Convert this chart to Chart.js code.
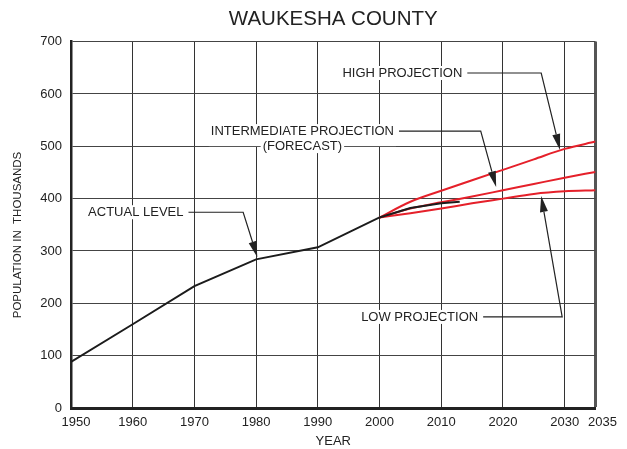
<!DOCTYPE html>
<html><head><meta charset="utf-8">
<script src="https://cdn.jsdelivr.net/npm/chart.js@4.4.1/dist/chart.umd.min.js"></script>
<style>html,body{margin:0;padding:0;background:#fff}canvas{display:block}</style>
</head><body>
<canvas id="c" width="627" height="449"></canvas>
<script>
// ---- data ----
const chartTitle = 'WAUKESHA COUNTY';
const xAxisTitle = 'YEAR';
const yAxisTitle = 'POPULATION IN  THOUSANDS';
const xTickValues = [1950, 1960, 1970, 1980, 1990, 2000, 2010, 2020, 2030, 2035];
const yTickValues = [0, 100, 200, 300, 400, 500, 600, 700];
const actualYears = [1950, 1960, 1970, 1980, 1990, 2000, 2005, 2010, 2013];
const actualPop   = [88, 160, 233, 284, 307, 364, 382, 391, 394];
const projYears        = [2000, 2005, 2010, 2015, 2020, 2025, 2030, 2035];
const highProj         = [364, 394, 415, 435, 455, 475, 495, 509];
const intermediateProj = [364, 381, 393, 404, 416, 428, 440, 451];
const lowProj          = [364, 372, 381, 391, 400, 409, 414, 416];

// ---- annotation callouts (anchors in data units) ----
const callouts = [
  {lines: ['HIGH PROJECTION'], at: [2003.7, 640], elbow: 2026.2, tip: [2029.25, 493]},
  {lines: ['INTERMEDIATE PROJECTION', '(FORECAST)'], at: [1987.5, 529], elbow: 2016.4, tip: [2018.9, 422]},
  {lines: ['ACTUAL LEVEL'], at: [1960.5, 374], elbow: 1977.9, tip: [1980.2, 288]},
  {lines: ['LOW PROJECTION'], at: [2006.5, 174], elbow: 2029.6, tip: [2026.2, 405]}
];

const FONT = "'Liberation Sans', Arial, Helvetica, sans-serif";
const RED = '#e5202a';
const INK = '#222';

const pts = (xs, ys) => xs.map((x, i) => ({x: x, y: ys[i]}));

function textBoxes(chart, cb) {
  const ctx = chart.ctx, xs = chart.scales.x, ys = chart.scales.y;
  ctx.save();
  ctx.font = '13px ' + FONT;
  callouts.forEach(c => {
    const cx = xs.getPixelForValue(c.at[0]);
    const cy = ys.getPixelForValue(c.at[1]);
    cb(ctx, c, cx, cy, xs, ys);
  });
  ctx.restore();
}

const notesPlugin = {
  id: 'notes',
  beforeDraw(chart) {
    const items = chart.scales.x.getLabelItems();
    if (items && items.length && !items.__shifted) {
      items[0].options.translation[0] += 5;
      items[items.length - 1].options.translation[0] += 7;
      items.__shifted = true;
    }
  },
  beforeDatasetsDraw(chart) {
    textBoxes(chart, (ctx, c, cx, cy) => {
      ctx.fillStyle = '#fff';
      c.lines.forEach((t, i) => {
        const w = ctx.measureText(t).width;
        ctx.fillRect(cx - w / 2 - 2, cy + i * 15 - 7, w + 4, 14);
      });
      if (c.lines.length > 1) {
        const w = Math.max(...c.lines.map(t => ctx.measureText(t).width));
        ctx.fillRect(cx - w / 2 - 2, cy, w + 4, 15);
      }
    });
  },
  afterDatasetsDraw(chart) {
    textBoxes(chart, (ctx, c, cx, cy, xs, ys) => {
      ctx.fillStyle = INK;
      ctx.textAlign = 'center';
      ctx.textBaseline = 'middle';
      c.lines.forEach((t, i) => ctx.fillText(t, cx, cy + i * 15 + 0.5));
      const w0 = ctx.measureText(c.lines[0]).width;
      const sx = cx + w0 / 2 + 5;
      const ex = xs.getPixelForValue(c.elbow);
      const tx = xs.getPixelForValue(c.tip[0]);
      const ty = ys.getPixelForValue(c.tip[1]);
      const ang = Math.atan2(ty - cy, tx - ex);
      const L = 16, W = 4;
      const bx = tx - L * Math.cos(ang), by = ty - L * Math.sin(ang);
      ctx.strokeStyle = INK;
      ctx.lineWidth = 1.2;
      ctx.beginPath();
      ctx.moveTo(sx, cy);
      ctx.lineTo(ex, cy);
      ctx.lineTo(bx, by);
      ctx.stroke();
      ctx.beginPath();
      ctx.moveTo(tx, ty);
      ctx.lineTo(bx - W * Math.sin(ang), by + W * Math.cos(ang));
      ctx.lineTo(bx + W * Math.sin(ang), by - W * Math.cos(ang));
      ctx.closePath();
      ctx.fill();
    });
    // y axis title
    const ctx = chart.ctx;
    ctx.save();
    ctx.font = '11.5px ' + FONT;
    ctx.fillStyle = INK;
    ctx.textAlign = 'center';
    ctx.textBaseline = 'middle';
    ctx.translate(18, 235);
    ctx.rotate(-Math.PI / 2);
    ctx.fillText(yAxisTitle, 0, 0);
    ctx.restore();
  }
};

new Chart(document.getElementById('c'), {
  type: 'line',
  data: {
    datasets: [
      {label: 'Actual Level', data: pts(actualYears, actualPop), borderColor: '#1c1c1c', borderWidth: 2, pointRadius: 0, tension: 0},
      {label: 'High Projection', data: pts(projYears, highProj), borderColor: RED, borderWidth: 2, pointRadius: 0, cubicInterpolationMode: 'monotone'},
      {label: 'Intermediate Projection', data: pts(projYears, intermediateProj), borderColor: RED, borderWidth: 2, pointRadius: 0, cubicInterpolationMode: 'monotone'},
      {label: 'Low Projection', data: pts(projYears, lowProj), borderColor: RED, borderWidth: 2, pointRadius: 0, cubicInterpolationMode: 'monotone'}
    ]
  },
  options: {
    responsive: false,
    animation: false,
    events: [],
    layout: {padding: {left: 0, right: 31.5, top: 0, bottom: 0}},
    plugins: {
      legend: {display: false},
      tooltip: {enabled: false},
      title: {
        display: true, text: chartTitle, fullSize: false, color: INK,
        font: {family: FONT, size: 20.5, weight: 'normal'},
        padding: {top: 7, bottom: 10}
      }
    },
    scales: {
      x: {
        type: 'linear', min: 1950, max: 2035,
        afterBuildTicks: s => { s.ticks = xTickValues.map(v => ({value: v})); },
        afterFit: s => { s.height = 41; s.paddingLeft = 0; s.paddingRight = 0; },
        ticks: {
          callback: v => String(v), autoSkip: false, maxRotation: 0, padding: 7,
          color: INK, font: {family: FONT, size: 13}
        },
        grid: {
          drawTicks: false,
          color: c => (c.tick && c.tick.value === 2035) ? '#555' : '#333',
          lineWidth: c => (c.tick && c.tick.value === 2035) ? 3 : 1
        },
        border: {display: true, color: INK, width: 3},
        title: {display: true, text: xAxisTitle, color: INK, font: {family: FONT, size: 13}, padding: {top: 0, bottom: 0}}
      },
      y: {
        type: 'linear', min: 0, max: 700,
        afterBuildTicks: s => { s.ticks = yTickValues.map(v => ({value: v})); },
        afterFit: s => { s.width = 71; },
        ticks: {
          callback: v => String(v), padding: 9,
          color: INK, font: {family: FONT, size: 13}
        },
        grid: {drawTicks: false, color: '#444', lineWidth: 1},
        border: {display: true, color: INK, width: 2.5}
      }
    }
  },
  plugins: [notesPlugin]
});
</script>
</body></html>
